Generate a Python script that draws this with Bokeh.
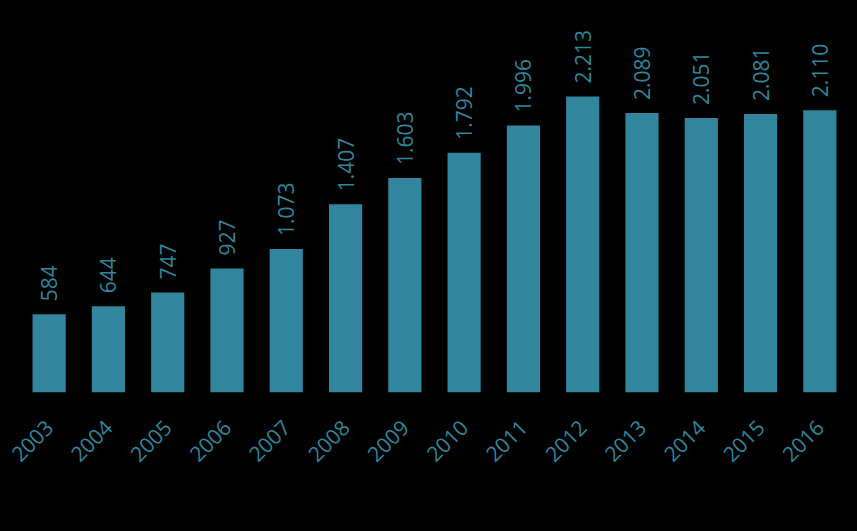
import math
from bokeh.plotting import figure
from bokeh.models import ColumnDataSource, FactorRange, Range1d
from bokeh.core.properties import value
from bokeh.embed import file_html
from bokeh.resources import INLINE

years = ["2003", "2004", "2005", "2006", "2007", "2008", "2009", "2010",
         "2011", "2012", "2013", "2014", "2015", "2016"]
values = [584, 644, 747, 927, 1073, 1407, 1603, 1792, 1996, 2213, 2089, 2051, 2081, 2110]
labels = ["{:,}".format(v).replace(",", ".") for v in values]

TEAL = "#31859C"
FONT = "Open Sans"

src = ColumnDataSource(dict(x=years, top=values, label=labels))

p = figure(width=857, height=531, x_range=FactorRange(*years, range_padding=0),
           y_range=Range1d(0, 2930), output_backend="svg", toolbar_location=None,
           min_border_left=19, min_border_right=8, min_border_top=0, min_border_bottom=139)
p.background_fill_color = None
p.border_fill_color = "black"
p.outline_line_color = None
p.grid.visible = False
p.yaxis.visible = False

p.vbar(x="x", top="top", width=0.56, bottom=0, source=src, fill_color=TEAL, line_color=None)
p.text(x="x", y="top", text="label", source=src, angle=math.pi / 2, y_offset=-13,
       text_align="left", text_baseline="middle", text_color=TEAL,
       text_font=value(FONT), text_font_size="21px")

ax = p.xaxis[0]
ax.axis_line_color = None
ax.major_tick_line_color = None
ax.minor_tick_line_color = None
ax.major_label_orientation = math.pi / 4
ax.major_label_text_color = TEAL
ax.major_label_text_font = FONT
ax.major_label_text_font_size = "21px"
ax.major_label_standoff = 25

html = file_html(p, INLINE)
html = html.replace("<head>", "<head><style>html,body{background:#000;margin:0;padding:0}</style>", 1)
open("out.html", "w").write(html)
